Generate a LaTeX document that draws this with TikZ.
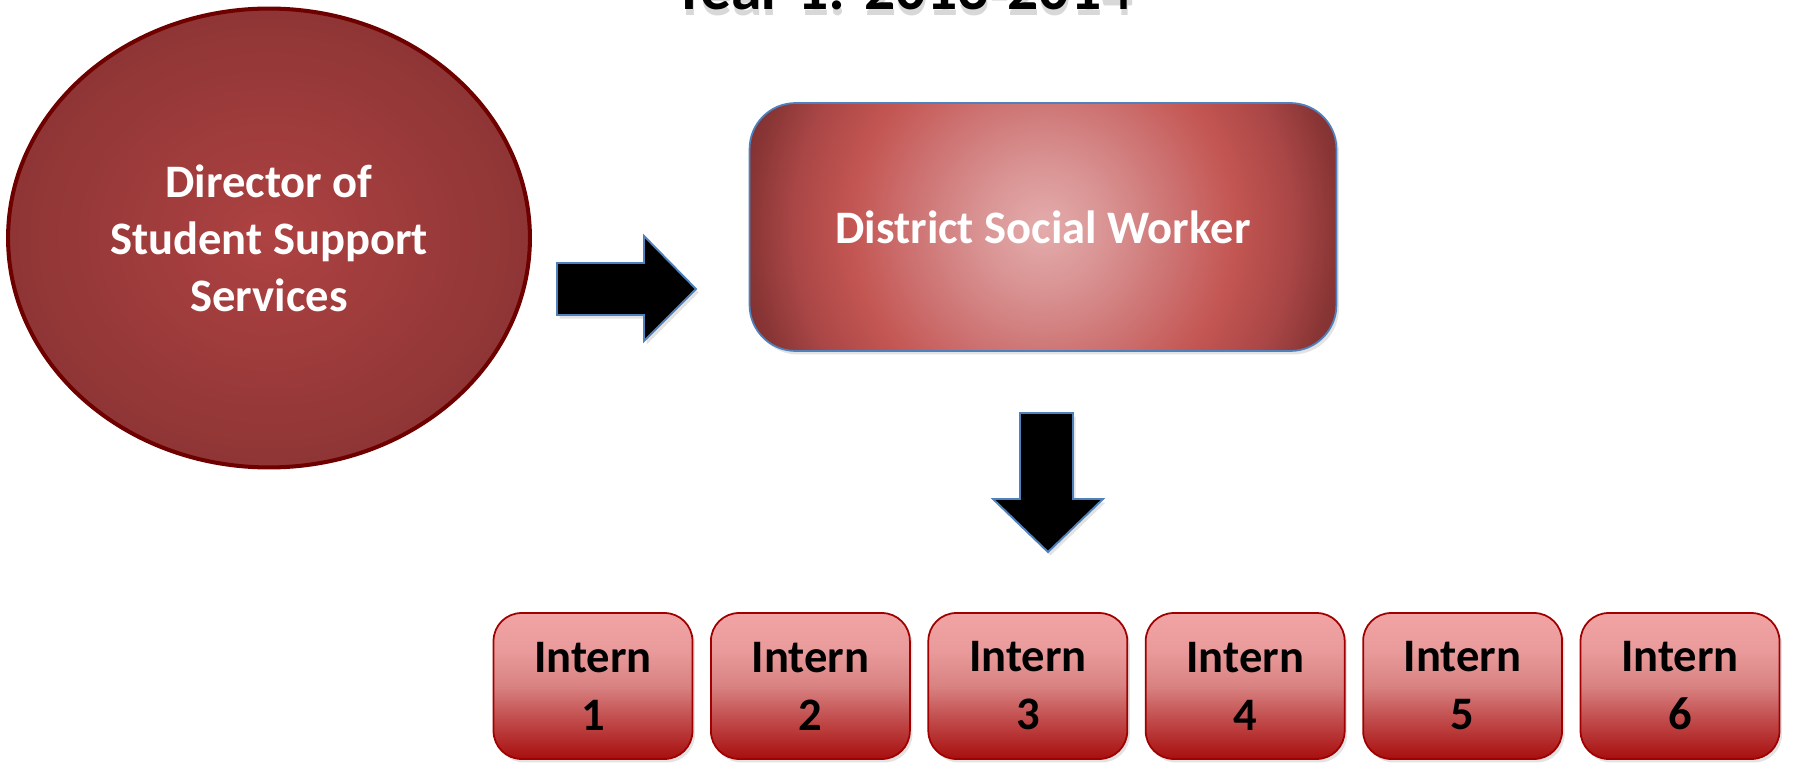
\documentclass[tikz,border=0pt]{standalone}
\usepackage{fontspec}
\setmainfont{Carlito}
\usetikzlibrary{shapes.geometric,shadows}

% colours
\definecolor{dirinner}{HTML}{AE4242}
\definecolor{dirouter}{HTML}{8F3535}
\definecolor{diredge}{HTML}{6E0000}
\definecolor{frameblue}{HTML}{4F81BD}
\definecolor{internedge}{HTML}{A00000}
\definecolor{glowA}{HTML}{E4ACAC}
\definecolor{glowB}{HTML}{D99292}
\definecolor{glowC}{HTML}{CD7272}
\definecolor{glowD}{HTML}{C35652}
\definecolor{glowE}{HTML}{A94646}
\definecolor{glowF}{HTML}{873434}
\definecolor{glowG}{HTML}{782C2C}
\definecolor{internA}{HTML}{F2A4A4}
\definecolor{internB}{HTML}{E99A9A}
\definecolor{internC}{HTML}{D98282}
\definecolor{internD}{HTML}{C45252}
\definecolor{internE}{HTML}{A80E0E}

% shadings
\pgfdeclareradialshading{workerglow}{\pgfpoint{0bp}{0bp}}{%
  color(0bp)=(glowA); color(5bp)=(glowB); color(10bp)=(glowC);
  color(14.5bp)=(glowD); color(19bp)=(glowE); color(22.5bp)=(glowF);
  color(25bp)=(glowG); color(50bp)=(glowG)}
\pgfdeclareverticalshading{internfade}{100bp}{%
  color(0bp)=(internE); color(25bp)=(internE); color(40bp)=(internD);
  color(50bp)=(internC); color(62bp)=(internB); color(75bp)=(internA);
  color(100bp)=(internA)}

\newcommand{\labelfont}{\fontsize{26.5}{32.5}\selectfont\bfseries}
\newcommand{\internfont}{\fontsize{26.5}{33}\selectfont\bfseries}

\tikzset{
  softshadow/.style={drop shadow={opacity=0.22, shadow xshift=0.05cm, shadow yshift=-0.07cm}},
  dirblob/.style={ellipse, draw=diredge, line width=2.3pt,
    inner color=dirinner, outer color=dirouter,
    minimum width=10.44cm, minimum height=9.18cm, inner sep=0pt,
    text=white, align=center, font=\labelfont},
  workerbox/.style={rectangle, rounded corners=0.92cm, draw=frameblue, line width=1pt,
    minimum width=11.74cm, minimum height=4.96cm, softshadow,
    path picture={\shade[shading=workerglow]
      (path picture bounding box.center) circle[radius=6.6cm];},
    text=white, font=\labelfont},
  internbox/.style={rectangle, rounded corners=0.56cm, draw=internedge, line width=1pt,
    minimum width=3.98cm, minimum height=2.92cm, softshadow,
    shade, shading=internfade, text=black, align=center, font=\internfont},
  blockarrow/.style={fill=black, draw=frameblue, line width=1.1pt, line join=miter, softshadow}
}

\begin{document}
\begin{tikzpicture}[x=0.02cm, y=-0.02cm]
  \useasboundingbox (0,0) rectangle (1793,764);

  % Heading (cut off at the top)
  \node[anchor=base, text=black!30, opacity=0.5, font=\fontsize{35}{40}\selectfont\bfseries]
    (headshade) at (904,15) {Year 1: 2013-2014};
  \node[anchor=base, font=\fontsize{35}{40}\selectfont\bfseries]
    (heading) at (903,10) {Year 1: 2013-2014};

  % Director
  \node[dirblob] (director) at (269,238) {Director of\\Student Support\\Services};

  % District social worker
  \node[workerbox] (worker) at (1043,227) {District Social Worker};

  % Block arrows
  \draw[blockarrow] (557,263) -- (644,263) -- (644,236) -- (696,289)
    -- (644,341) -- (644,315) -- (557,315) -- cycle;
  \draw[blockarrow] (1020,413) -- (1073,413) -- (1073,499) -- (1103,499)
    -- (1048,552) -- (993,499) -- (1020,499) -- cycle;

  % Interns
  \foreach \i in {1,...,6}
    \node[internbox] (intern\i) at ({593+(\i-1)*217.4},686) {Intern\\\i};
\end{tikzpicture}
\end{document}
